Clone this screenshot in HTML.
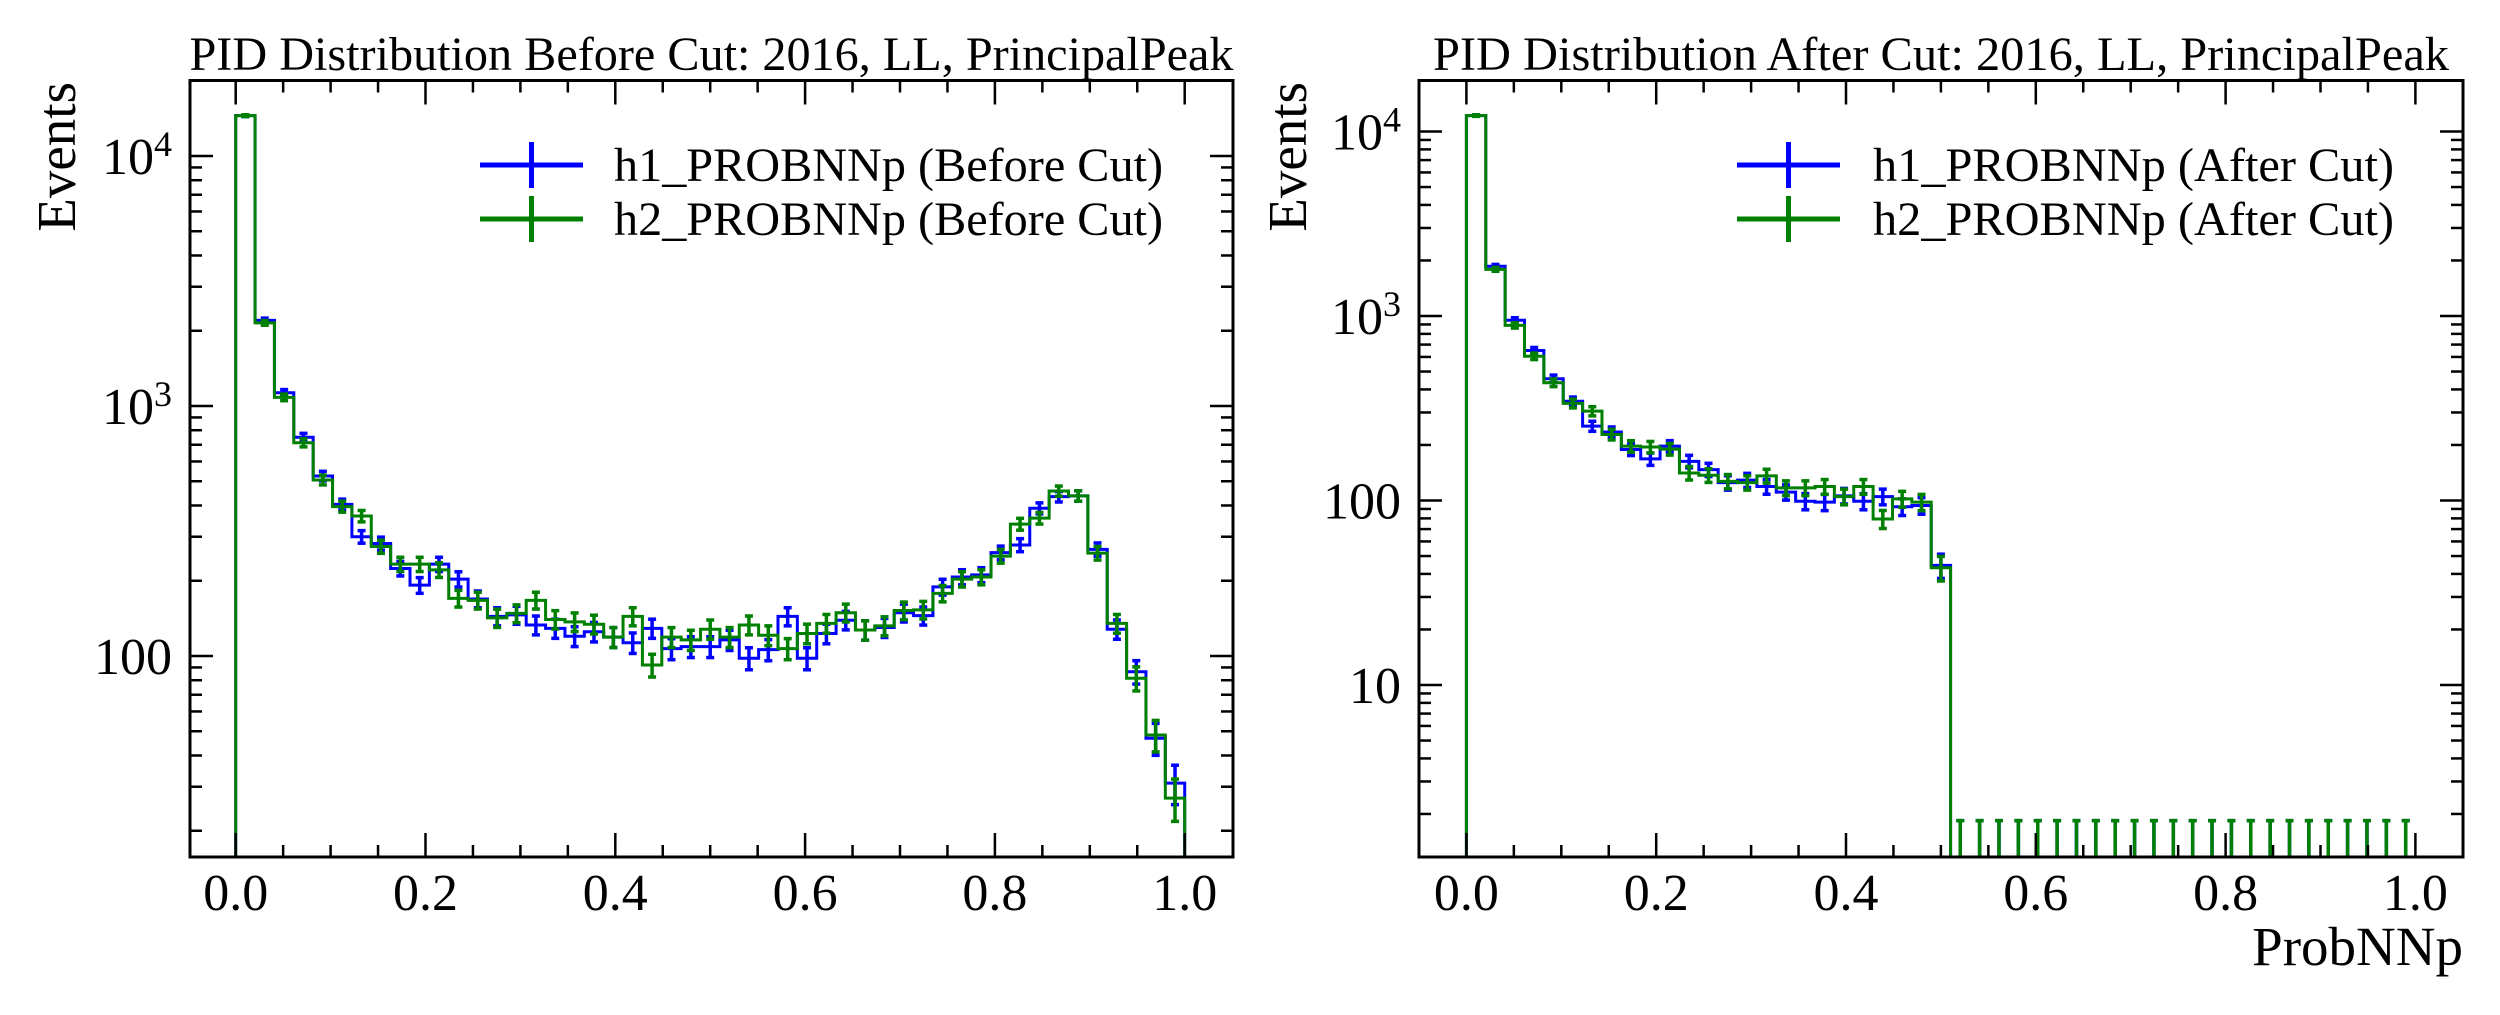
<!DOCTYPE html>
<html><head><meta charset="utf-8"><style>
html,body{margin:0;padding:0;background:#fff;}
svg{display:block;font-family:"Liberation Serif","DejaVu Serif",serif;}
</style></head><body>
<svg id="fig" width="2500" height="1015" viewBox="0 0 2500 1015" xmlns="http://www.w3.org/2000/svg"></svg>
<script>
// ---- data (49 bins over 0..1) ----
const leftH1 = [14500,2200,1130,750,525,404,300,282,224,192,233,203,169,144,146,133,129,120,125,119,113,129,107,109,109,116,98,106,144,98,123,139,127,130,149,145,189,207,211,259,278,390,434,437,267,128,86.5,46.9,31];
const leftH2 = [14500,2150,1083,713,506,396,363,274,233,233,221,170,167,142,148,167,140,137,134,119,144,92,119,116,128,119,133,121,107,123,135,149,127,132,152,153,178,203,207,251,337,356,457,437,258,135,81.5,48.3,27];
const rightH1 = [12200,1860,948,650,457,345,253,235,189,168,197,163,147,125,129,119,111,99,98,106,99,105,92.5,94,44.5,0,0,0,0,0,0,0,0,0,0,0,0,0,0,0,0,0,0,0,0,0,0,0,0];
const rightH2 = [12200,1790,890,605,435,336,305,228,197,195,190,141,137,127,125,136,117,117,119,105,119,79.4,102,98,43.2,0,0,0,0,0,0,0,0,0,0,0,0,0,0,0,0,0,0,0,0,0,0,0,0];
const xTickLabels = ["0.0","0.2","0.4","0.6","0.8","1.0"];
const xTickValues = [0,0.2,0.4,0.6,0.8,1.0];
const leftYTicks = [100,1000,10000];
const rightYTicks = [10,100,1000,10000];
const zeroUpperErr = 1.84;

const NS="http://www.w3.org/2000/svg";
const svg=document.getElementById('fig');
function mk(tag,attrs,parent){const e=document.createElementNS(NS,tag);for(const k in attrs)e.setAttribute(k,attrs[k]);(parent||svg).appendChild(e);return e;}

function panel(cfg){
  const g=mk('g',{});
  
  
  const L=cfg.left,R=cfg.right,T=80.5,B=857;
  const x0=cfg.x0,xs=949;
  const X=v=>x0+v*xs;
  const Y=v=>cfg.yRef-cfg.dec*(Math.log10(v)-cfg.logRef);
  const yMinLog=cfg.logRef+(cfg.yRef-B)/cfg.dec;
  const cid='clip'+cfg.id;
  const cp=mk('clipPath',{id:cid},g);mk('rect',{x:L,y:T,width:R-L,height:B-T},cp);
  const data=mk('g',{'clip-path':'url(#'+cid+')'},g);
  const nb=49,w=1/nb;
  function series(vals,color,nm){
    let d='M'+X(0)+','+(B+5);
    for(let i=0;i<nb;i++){
      const v=vals[i];const y=v>0?Y(v):B+5;
      d+=' L'+X(i*w)+','+y+' L'+X((i+1)*w)+','+y;
    }
    d+=' L'+X(1)+','+(B+5);
    const p=mk('path',{d:d,fill:'none',stroke:color,'stroke-width':3},data);
    
    
    const eg=mk('g',{stroke:color,'stroke-width':3.5},data);
    
    
    for(let i=0;i<nb;i++){
      const v=vals[i];const cx=X((i+0.5)*w);
      let lo,hi;
      if(v>0){const e=Math.sqrt(v);hi=Y(v+e);lo=v-e>0?Y(v-e):B+5;}
      else{hi=Y(zeroUpperErr);lo=B+5;}
      mk('line',{x1:cx,y1:lo,x2:cx,y2:hi},eg);
      mk('line',{x1:cx-4,y1:hi,x2:cx+4,y2:hi},eg);
      if(lo<B) mk('line',{x1:cx-4,y1:lo,x2:cx+4,y2:lo},eg);
    }
  }
  series(cfg.h1,'#0000ff','h1-series');
  series(cfg.h2,'#008000','h2-series');
  // frame
  const fr=mk('rect',{x:L,y:T,width:R-L,height:B-T,fill:'none',stroke:'#000','stroke-width':3},g);
  
  
  // x ticks
  const tg=mk('g',{stroke:'#000','stroke-width':2.5},g);
  for(let k=0;k<=20;k++){
    const v=k*0.05;const x=X(v);const major=(k%4===0);const len=major?24:12;
    mk('line',{x1:x,y1:B,x2:x,y2:B-len},tg);
    mk('line',{x1:x,y1:T,x2:x,y2:T+len},tg);
  }
  xTickLabels.forEach((s,i)=>{
    const t=mk('text',{x:X(xTickValues[i]),y:910,'font-size':52,'text-anchor':'middle',fill:'#000'},g);
    t.textContent=s;
    
    
  });
  // y ticks
  for(let e=-1;e<=5;e++){
    for(let m=1;m<=9;m++){
      const v=m*Math.pow(10,e);const lg=Math.log10(v);
      if(lg<yMinLog)continue;const y=Y(v);if(y<T)continue;
      const len=m===1?23:12;
      mk('line',{x1:L,y1:y,x2:L+len,y2:y},tg);
      mk('line',{x1:R,y1:y,x2:R-len,y2:y},tg);
    }
  }
  cfg.yTicks.forEach(v=>{
    const y=Y(v);
    const t=mk('text',{x:cfg.labelRight,y:y+18,'font-size':52,'text-anchor':'end',fill:'#000'},g);
    
    
    if(v>=1000){
      const ex=Math.round(Math.log10(v));
      t.textContent='10';
      const s=mk('tspan',{'font-size':36,dy:-18},t);s.textContent=String(ex);
    } else t.textContent=String(v);
  });
  // title
  const tt=mk('text',{x:(L+R)/2,y:70,'font-size':48,'text-anchor':'middle',textLength:cfg.titleLen,lengthAdjust:'spacingAndGlyphs',fill:'#000'},g);
  tt.textContent=cfg.title;
  
  
  // y label
  const yl=mk('text',{x:0,y:0,'font-size':55,'text-anchor':'end',transform:'translate('+cfg.ylabX+',82) rotate(-90)',fill:'#000'},g);
  yl.textContent='Events';
  
  
  // legend
  const lg=mk('g',{},g);
  
  
  [['#0000ff',165,cfg.leg1],['#008000',219,cfg.leg2]].forEach((r,i)=>{
    const e=mk('g',{},lg);
    
    
    mk('line',{x1:cfg.legX,y1:r[1],x2:cfg.legX+103,y2:r[1],stroke:r[0],'stroke-width':5},e);
    mk('line',{x1:cfg.legX+51.5,y1:r[1]-23,x2:cfg.legX+51.5,y2:r[1]+23,stroke:r[0],'stroke-width':5},e);
    const t=mk('text',{x:cfg.legTX,y:r[1]+16,'font-size':48,textLength:cfg.legLen,lengthAdjust:'spacingAndGlyphs',fill:'#000'},e);
    t.textContent=r[2];
  });
}
panel({id:'L',name:'left-panel-before-cut',left:190,right:1233,x0:235.7,yRef:406,logRef:3,dec:250,
  h1:leftH1,h2:leftH2,yTicks:leftYTicks,labelRight:172,ylabX:75,
  title:'PID Distribution Before Cut: 2016, LL, PrincipalPeak',titleLen:1044,
  leg1:'h1_PROBNNp (Before Cut)',leg2:'h2_PROBNNp (Before Cut)',legX:480,legTX:614,legLen:549});
panel({id:'R',name:'right-panel-after-cut',left:1419,right:2463,x0:1466.4,yRef:316,logRef:3,dec:184.5,
  h1:rightH1,h2:rightH2,yTicks:rightYTicks,labelRight:1401,ylabX:1306,
  title:'PID Distribution After Cut: 2016, LL, PrincipalPeak',titleLen:1016,
  leg1:'h1_PROBNNp (After Cut)',leg2:'h2_PROBNNp (After Cut)',legX:1737,legTX:1873,legLen:521});
const xl=mk('text',{x:2463,y:965,'font-size':55,'text-anchor':'end',fill:'#000'});
xl.textContent='ProbNNp';


</script>
</body></html>
